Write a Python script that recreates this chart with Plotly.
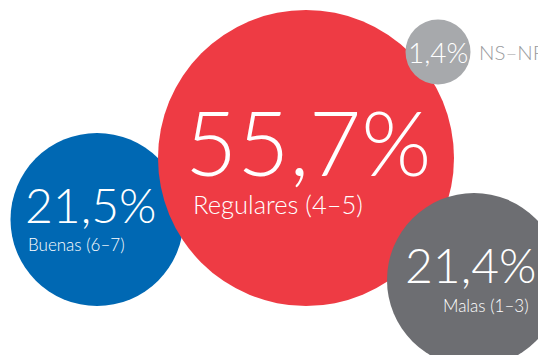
import plotly.graph_objects as go

# Data
categories = ["Buenas (6–7)", "Regulares (4–5)", "Malas (1–3)", "NS–NR"]
values = [21.5, 55.7, 21.4, 1.4]

# Layout / style (pixel coordinates of the 538x355 canvas)
centers_x = [97, 306, 474, 438]
centers_y = [219.5, 158, 280, 52]
diameters = [173, 296, 174, 65]
colors = ["#0068B3", "#EE3B44", "#6D6E72", "#A7A9AC"]

FONT = "Lato"

def fmt(v):
    return f"{v:.1f}".replace(".", ",") + "%"

fig = go.Figure()
for i in range(len(values)):
    fig.add_trace(go.Scatter(
        x=[centers_x[i]], y=[centers_y[i]], mode="markers",
        marker=dict(size=diameters[i], color=colors[i], line=dict(width=0), opacity=1),
        hoverinfo="skip", showlegend=False, cliponaxis=False))

# value labels: (x_left, y_center, size) in category order
val_pos = [(22.5, 204.5, 48), (183, 141, 90), (403, 264, 48), (406, 52, 28)]
cat_pos = [(26, 244, 17), (191, 204, 25.5), (441, 305, 17), (477, 52, 20.5)]
cat_colors = ["white", "white", "white", "#9A9B9E"]

for i in range(len(values)):
    x, y, s = val_pos[i]
    fig.add_annotation(x=x, y=y, xref="x", yref="y", text=fmt(values[i]),
                       showarrow=False, xanchor="left", yanchor="middle",
                       font=dict(family=FONT, size=s, color="white", weight=300))
    x, y, s = cat_pos[i]
    fig.add_annotation(x=x, y=y, xref="x", yref="y", text=categories[i],
                       showarrow=False, xanchor="left", yanchor="middle",
                       font=dict(family=FONT, size=s, color=cat_colors[i], weight=300))

W, H = 538, 355
fig.update_layout(
    width=W, height=H, margin=dict(l=0, r=0, t=0, b=0),
    paper_bgcolor="white", plot_bgcolor="white",
    xaxis=dict(range=[0, W], visible=False, fixedrange=True),
    yaxis=dict(range=[H, 0], visible=False, fixedrange=True),
)
fig.write_html("out.html", config={"displayModeBar": False},
               post_script="document.body.style.margin='0';document.body.style.overflow='hidden';")
